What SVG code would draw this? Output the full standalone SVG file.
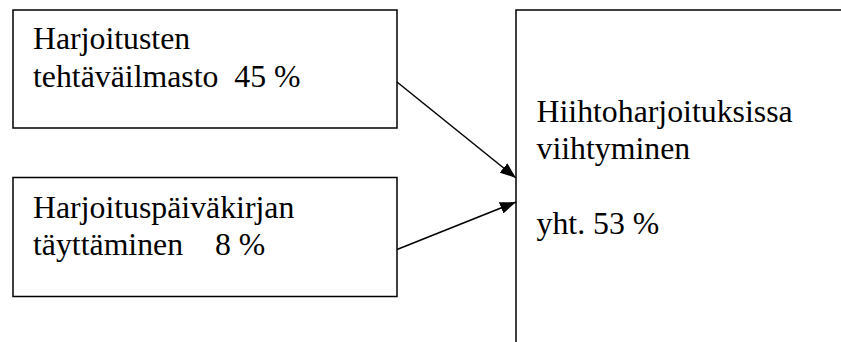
<svg xmlns="http://www.w3.org/2000/svg" width="841" height="342" viewBox="0 0 841 342">
  <style>
    .box { fill: #ffffff; stroke: #000000; stroke-width: 1.5; }
    .lbl { font-family: 'Liberation Serif', 'DejaVu Serif', serif; font-size: 31.8px; fill: #000000; }
    .conn { stroke: #000000; stroke-width: 1.5; fill: none; marker-end: url(#arrow); }
  </style>
  <defs>
    <marker id="arrow" viewBox="0 0 16 12" refX="16" refY="6" markerWidth="16" markerHeight="12" markerUnits="userSpaceOnUse" orient="auto">
      <path d="M0,0 L16,6 L0,12 Z" fill="#000000"/>
    </marker>
  </defs>
  <rect width="841" height="342" fill="#ffffff"/>

  <g id="node-tehtavailmasto">
    <rect class="box" x="13" y="10" width="384" height="118"/>
    <text class="lbl" x="33" y="49">Harjoitusten</text>
    <text class="lbl" x="33" y="87" xml:space="preserve">tehtäväilmasto  45 %</text>
  </g>

  <g id="node-paivakirja">
    <rect class="box" x="13" y="177.5" width="384" height="119"/>
    <text class="lbl" x="33" y="217.5">Harjoituspäiväkirjan</text>
    <text class="lbl" x="33" y="255" xml:space="preserve">täyttäminen    8 %</text>
  </g>

  <g id="node-viihtyminen">
    <path class="box" d="M516,342 L516,10 L845,10"/>
    <text class="lbl" x="536.5" y="121.5">Hiihtoharjoituksissa</text>
    <text class="lbl" x="536.5" y="158.5">viihtyminen</text>
    <text class="lbl" x="536.5" y="233.5">yht. 53 %</text>
  </g>

  <g id="connectors">
    <line class="conn" x1="397" y1="82" x2="516" y2="178"/>
    <line class="conn" x1="397" y1="249.5" x2="516" y2="202"/>
  </g>
</svg>
